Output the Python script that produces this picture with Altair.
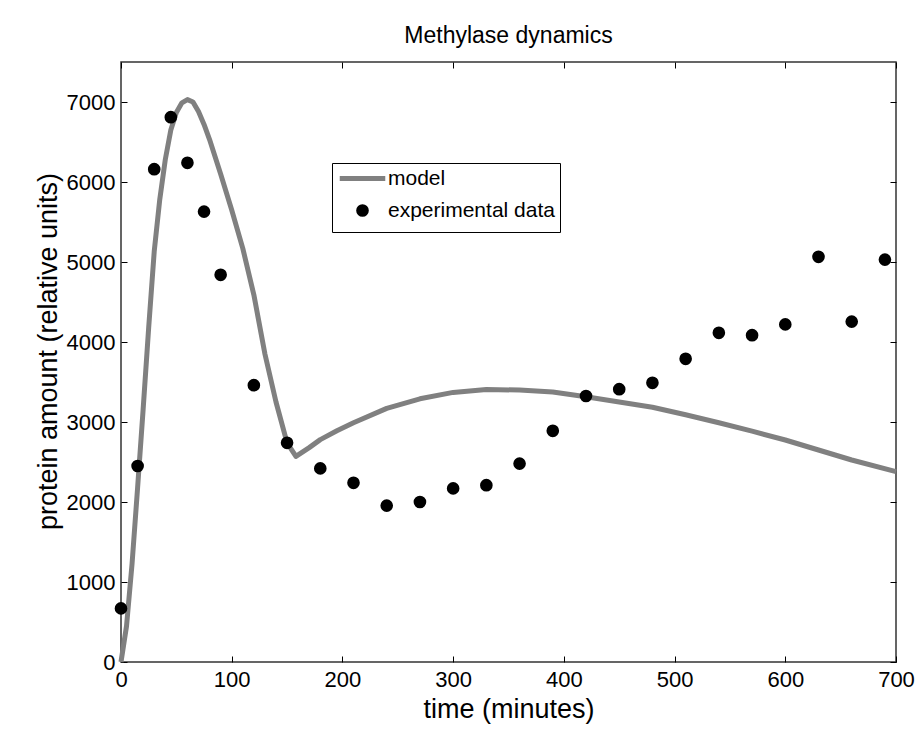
import altair as alt
import pandas as pd

# ---- data ----
model_t = [0, 5, 10, 15, 20, 25, 30, 35, 40, 45, 50, 55, 60, 65, 70, 75, 80, 90, 100,
           110, 120, 130, 140, 150, 158, 170, 180, 195, 210, 240, 270, 300, 330, 360,
           390, 420, 450, 480, 510, 540, 570, 600, 630, 660, 700]
model_v = [0, 450, 1230, 2180, 3160, 4180, 5130, 5780, 6280, 6650, 6870, 6990, 7030,
           7000, 6880, 6720, 6530, 6100, 5650, 5170, 4590, 3850, 3250, 2740, 2570, 2680,
           2780, 2890, 2990, 3170, 3290, 3370, 3405, 3400, 3375, 3315, 3250, 3185, 3090,
           2990, 2885, 2775, 2650, 2525, 2380]

exp_t = [0, 15, 30, 45, 60, 75, 90, 120, 150, 180, 210, 240, 270, 300, 330, 360, 390,
         420, 450, 480, 510, 540, 570, 600, 630, 660, 690]
exp_v = [670, 2450, 6160, 6810, 6240, 5630, 4840, 3460, 2740, 2420, 2240, 1955, 2000,
         2170, 2210, 2480, 2890, 3325, 3410, 3490, 3790, 4115, 4085, 4220, 5065, 4255, 5030]

x_ticks = [0, 100, 200, 300, 400, 500, 600, 700]
y_ticks = [0, 1000, 2000, 3000, 4000, 5000, 6000, 7000]
series_names = ["model", "experimental data"]

model_df = pd.DataFrame({"t": model_t, "v": model_v})
exp_df = pd.DataFrame({"t": exp_t, "v": exp_v, "series": series_names[1]})

FONT = "Liberation Sans"
xs = alt.Scale(domain=[0, 700], nice=False, zero=False)
ys = alt.Scale(domain=[0, 7500], nice=False)

common_axis = dict(domain=False, grid=False, tickColor="black", tickWidth=1,
                   labelFont=FONT, labelColor="black", labelOverlap=False,
                   labelFlush=False, titleFont=FONT, titleColor="black",
                   titleFontWeight="normal", format="d")

x_bottom = alt.Axis(orient="bottom", values=x_ticks, offset=-6, tickSize=6,
                    labelPadding=7, labelFontSize=22, title="time (minutes)",
                    titleFontSize=27, titleBaseline="middle", titleY=53,
                    **common_axis)
x_top = alt.Axis(orient="top", values=x_ticks, offset=-6, tickSize=6,
                 labels=False, title=None, **common_axis)
y_left = alt.Axis(orient="left", values=y_ticks, offset=-6, tickSize=6,
                  labelPadding=6, labelFontSize=22,
                  title="protein amount (relative units)", titleFontSize=27,
                  titleBaseline="middle", titleAngle=270, titleX=-79, titleY=289,
                  **common_axis)
y_right = alt.Axis(orient="right", values=y_ticks, offset=-6, tickSize=6,
                   labels=False, title=None, **common_axis)

leg = alt.Legend(title=None, orient="none", legendX=211, legendY=101,
                 direction="vertical", strokeColor="black", fillColor="white",
                 padding=5, labelFont=FONT, labelFontSize=21, labelColor="black",
                 labelLimit=400, symbolStrokeWidth=5, symbolSize=160,
                 symbolOffset=15, labelOffset=15, rowPadding=5, cornerRadius=0)

line = alt.Chart(model_df).mark_line(
    color="#808080", strokeWidth=5, strokeJoin="round"
).encode(
    x=alt.X("t:Q", scale=xs, axis=x_bottom),
    y=alt.Y("v:Q", scale=ys, axis=y_left),
)

points = alt.Chart(exp_df).mark_point(
    filled=True, size=160, opacity=1
).encode(
    x=alt.X("t:Q", scale=xs, axis=x_top),
    y=alt.Y("v:Q", scale=ys, axis=y_right),
    fill=alt.Fill("series:N", scale=alt.Scale(domain=series_names, range=["#808080", "#000000"]), legend=leg),
    stroke=alt.Stroke("series:N", scale=alt.Scale(domain=series_names, range=["#808080", "transparent"]), legend=leg),
    shape=alt.Shape("series:N", scale=alt.Scale(domain=series_names, range=["M-3.6,0H3.6", "circle"]), legend=leg),
)

chart = alt.layer(line, points).resolve_axis(
    x="independent", y="independent"
).properties(
    width=775, height=600,
    autosize="none",
    padding={"left": 121, "top": 62, "right": 28, "bottom": 76},
    background="white",
    title=alt.TitleParams("Methylase dynamics", font=FONT, fontSize=23,
                          fontWeight="normal", color="black", offset=-4,
                          baseline="alphabetic", anchor="middle"),
).configure_view(stroke="#333333", strokeWidth=1.5)

chart.save("out.html", embed_options={"renderer": "svg", "actions": False})
